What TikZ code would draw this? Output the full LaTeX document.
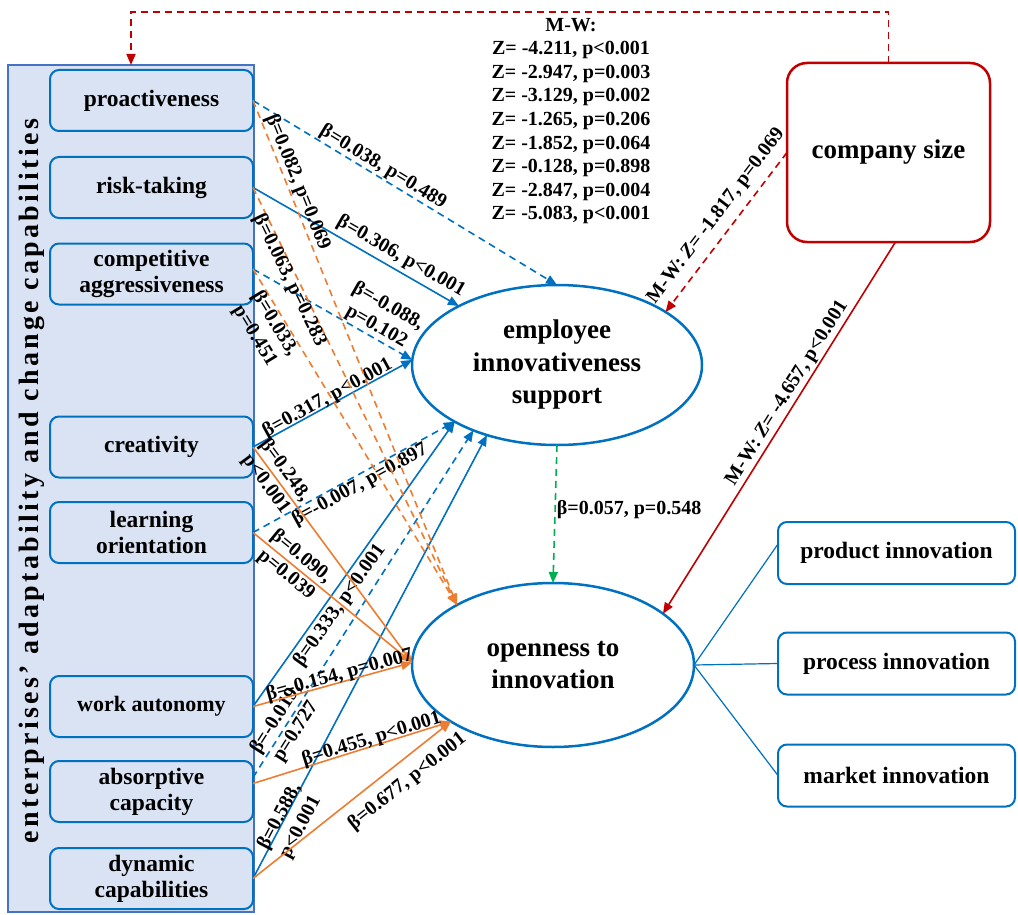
\documentclass[tikz,border=0pt]{standalone}
\usepackage{fontspec}
\setmainfont{Liberation Serif}
\newfontfamily\spacedfont[LetterSpace=11.8]{Liberation Serif}
\usetikzlibrary{arrows.meta,shapes.geometric}
\definecolor{cblue}{HTML}{0070C0}
\definecolor{corange}{HTML}{ED7D31}
\definecolor{cred}{HTML}{C00000}
\definecolor{cgreen}{HTML}{00B050}
\definecolor{cpanel}{HTML}{DAE3F3}
\definecolor{cpanelb}{HTML}{4472C4}
\tikzset{
  lab/.style={font=\bfseries\fontsize{20}{23.4}\selectfont, inner sep=0pt, sloped, text=black},
  labn/.style={font=\bfseries\fontsize{20}{23.4}\selectfont, inner sep=0pt, text=black},
  bx/.style={draw=cblue, line width=2pt, fill=cpanel, rounded corners=9pt, minimum width=203pt, minimum height=61pt, align=center, font=\bfseries\fontsize{23.5}{26}\selectfont, inner sep=0pt, outer sep=0pt},
  rbx/.style={bx, fill=white, minimum width=237pt, minimum height=62pt},
  ell/.style={ellipse, draw=cblue, fill=white, line width=2.5pt, align=center, font=\bfseries\fontsize{27}{32.5}\selectfont, inner sep=0pt, outer sep=0pt},
  arr/.style={-{Triangle[length=11pt,width=9pt]}, line width=1.6pt},
  bl/.style={arr, draw=cblue},
  bld/.style={bl, dash pattern=on 7pt off 5pt},
  ol/.style={arr, draw=corange},
  old/.style={ol, dash pattern=on 7pt off 5pt},
  rs/.style={arr, draw=cred},
  rd/.style={rs, dash pattern=on 7pt off 5pt},
  gd/.style={arr, draw=cgreen, dash pattern=on 7pt off 5pt},
}
\begin{document}
\begin{tikzpicture}[x=1pt,y=-1pt]
\fill[white] (0,0) rectangle (1018,915);
\useasboundingbox (0,0) rectangle (1018,915);

% left panel
\node[draw=cpanelb, line width=1.2pt, fill=cpanel, minimum width=246pt, minimum height=847pt, inner sep=0pt, outer sep=0pt] (panel) at (131,488.5) {};
\node[rotate=90, font=\spacedfont\bfseries\fontsize{28}{28}\selectfont, inner sep=0pt] (vt) at (32,481) {enterprises’ adaptability and change capabilities};

\node[bx] (pro) at (151.5,100.5) {proactiveness};
\node[bx] (risk) at (151.5,187.5) {risk-taking};
\node[bx] (cag) at (151.5,274) {competitive\\aggressiveness};
\node[bx] (crea) at (151.5,447) {creativity};
\node[bx] (learn) at (151.5,532.5) {learning\\orientation};
\node[bx, font=\bfseries\fontsize{22}{26}\selectfont] (work) at (151.5,706.5) {work autonomy};
\node[bx] (abs) at (151.5,791.5) {absorptive\\capacity};
\node[bx] (dyn) at (151.5,878.5) {dynamic\\capabilities};

% ellipses
\node[ell, minimum width=290pt, minimum height=160pt] (eis) at (557,365) {employee\\innovativeness\\support};
\node[ell, minimum width=282pt, minimum height=164pt] (oi) at (553,665) {openness to\\innovation};

% company size
\node[draw=cred, fill=white, line width=2.5pt, rounded corners=20pt, minimum width=203pt, minimum height=179pt, font=\bfseries\fontsize{27}{30}\selectfont, inner sep=0pt, outer sep=0pt] (csize) at (888.5,152.5) {company size};

% right boxes
\node[rbx] (prod) at (896.5,553) {product innovation};
\node[rbx] (proc) at (896.5,663.5) {process innovation};
\node[rbx] (mark) at (896.5,775.5) {market innovation};

% M-W block
\node[labn, align=center, font=\bfseries\fontsize{20}{23.6}\selectfont] (mw) at (571,121) {M-W:\\Z= -4.211, p<0.001\\Z= -2.947, p=0.003\\Z= -3.129, p=0.002\\Z= -1.265, p=0.206\\Z= -1.852, p=0.064\\Z= -0.128, p=0.898\\Z= -2.847, p=0.004\\Z= -5.083, p<0.001};

% blue edges to employee innovativeness support
\draw[bld] (pro.east) -- node[lab, above=0.5pt, pos=0.41] {β=0.038, p=0.489} (eis.90);
\draw[bl] (risk.east) -- node[lab, above=4pt, pos=0.685] {β=0.306, p<0.001} (eis.149.4);
\draw[bld] ([yshift=5pt]cag.east) -- node[lab, above=1pt, pos=0.74, align=center] {β=-0.088,\\p=0.102} (eis.178);
\draw[bl] (crea.east) -- node[lab, above=-3pt, pos=0.49] {β=0.317, p<0.001} (eis.178);
\draw[bld] (learn.east) -- node[lab, below=0pt, pos=0.507] {β=-0.007, p=0.897} (eis.209.7);
\draw[bl] (work.east) -- node[lab, below=2.5pt, pos=0.38] {β=0.333, p<0.001} (eis.209.7);
\draw[bld] ([yshift=14pt]abs.east) -- node[lab, pos=0.15, align=center] {β=-0.019,\\p=0.727} (eis.218.7);
\draw[bl] (dyn.east) -- node[lab, below=-15pt, pos=0.134, align=center] {β=0.588,\\p<0.001} (eis.225.7);

% orange edges to openness to innovation
\draw[old] (pro.east) -- node[lab, above=0.75pt, pos=0.17] {β=0.082, p=0.069} (oi.148);
\draw[old] (risk.east) -- node[lab, below=-2pt, pos=0.214] {β=0.063, p=0.283} (oi.148);
\draw[old] ([yshift=5pt]cag.east) -- node[lab, below=0pt, pos=0.148, align=center] {β=0.033,\\p=0.451} (oi.148);
\draw[ol] (crea.east) -- node[lab, pos=0.14, align=center] {β=0.248,\\p<0.001} (oi.179);
\draw[ol] (learn.east) -- node[lab, pos=0.255, align=center] {β=0.090,\\p=0.039} (oi.179);
\draw[ol] (work.east) -- node[lab, above=-3pt, pos=0.557] {β=-0.154, p=0.007} (oi.179);
\draw[ol] ([yshift=8pt]abs.east) -- node[lab, above=-3pt, pos=0.61] {β=0.455, p<0.001} (oi.209.8);
\draw[ol] (dyn.east) -- node[lab, below=10pt, pos=0.717] {β=0.677, p<0.001} (oi.209.8);

% green
\draw[gd] (eis.270) -- node[labn, right=1pt, pos=0.47] {β=0.057, p=0.548} (oi.90);

% red
\draw[rd] (csize.west) -- node[lab, above=8pt, pos=0.467] {M-W: \textit{Z}= -1.817, p=0.069} (eis.26.3);
\draw[rs] ([xshift=7pt]csize.south) -- node[lab, above=2pt, pos=0.423] {M-W: \textit{Z}= -4.657, p<0.001} (oi.25.5);
\draw[rd] (csize.north) -- ++(0,-51) -| (panel.north);

% right lines
\draw[cblue, line width=1.2pt] (oi.east) -- ([yshift=9pt]prod.west);
\draw[cblue, line width=1.2pt] (oi.east) -- (proc.west);
\draw[cblue, line width=1.2pt] (oi.east) -- (mark.west);
\end{tikzpicture}
\end{document}
